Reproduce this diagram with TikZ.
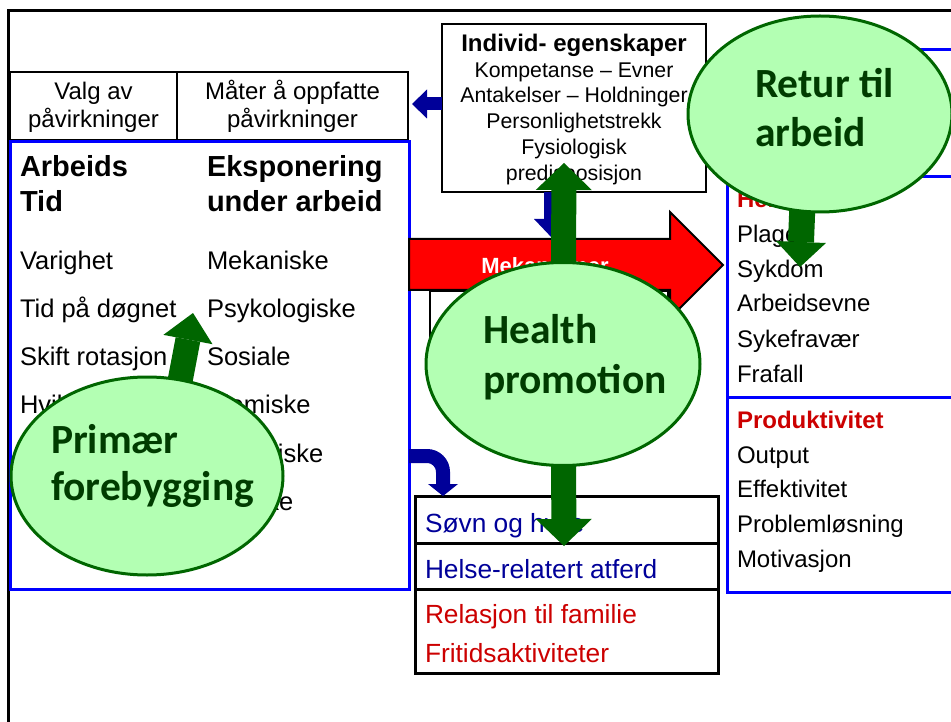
\documentclass[tikz,border=0pt]{standalone}
\usepackage{fontspec}
\setmainfont{Liberation Sans}
\newfontfamily\carl{Carlito}
\usetikzlibrary{arrows.meta,shapes.geometric,calc}
\definecolor{bluel}{RGB}{0,0,255}
\definecolor{navy}{RGB}{0,0,153}
\definecolor{redt}{RGB}{204,0,0}
\definecolor{gfill}{RGB}{179,255,179}
\definecolor{gdark}{RGB}{0,102,0}
\definecolor{gtext}{RGB}{0,60,0}
\tikzset{
  lbl/.style={anchor=base west, inner sep=0pt, outer sep=0pt},
  clbl/.style={anchor=base, inner sep=0pt, outer sep=0pt},
  bbox/.style={draw=black, line width=2.5pt, fill=white, anchor=north west, inner sep=0pt, outer sep=0pt},
  bluebox/.style={draw=bluel, line width=3pt, anchor=north west, inner sep=0pt, outer sep=0pt},
  gell/.style={ellipse, draw=gdark, fill=gfill, line width=3pt, inner sep=0pt},
  gtxt/.style={lbl, text=gtext, font=\carl\bfseries\fontsize{41.5}{48}\selectfont},
  f21/.style={font=\fontsize{21.3}{26}\selectfont},
  f24/.style={font=\fontsize{24}{28}\selectfont},
  f24b/.style={font=\bfseries\fontsize{24}{28}\selectfont},
  f25/.style={font=\fontsize{25.5}{30}\selectfont},
  f26/.style={font=\fontsize{26.3}{31}\selectfont},
  f29b/.style={font=\bfseries\fontsize{29}{34}\selectfont},
  garrow/.style={draw=gdark, line width=25pt, -{Triangle[length=27pt 0 0, width=56pt 0 0, line width=0pt 0 0]}},
  garrowb/.style={draw=gdark, line width=26pt, -{Triangle[length=25pt 0 0, width=50pt 0 0, line width=0pt 0 0]}},
  barrow/.style={draw=navy, line width=13pt, -{Triangle[length=15pt 0 0, width=29pt 0 0, line width=0pt 0 0]}},
  barrowd/.style={draw=navy, line width=18pt, -{Triangle[length=20pt 0 0, width=38pt 0 0, line width=0pt 0 0]}},
  barrowc/.style={draw=navy, line width=14pt, -{Triangle[length=12pt 0 0, width=30pt 0 0, line width=0pt 0 0]}},
}
\begin{document}
\begin{tikzpicture}[x=1pt,y=-1pt]
\useasboundingbox (0,0) rectangle (951,722);
\fill[white] (0,0) rectangle (951,722);
% outer frame
\draw[line width=3pt] (8,740) -- (8,11) -- (970,11);

% top-left boxes
\node[bbox, minimum width=167pt, minimum height=68pt] (valg) at (10,72) {};
\node[bbox, minimum width=231pt, minimum height=68pt] (maater) at (177,72) {};
\node[clbl, f24] at (93.5,100) {Valg av};
\node[clbl, f24] at (93.5,128) {påvirkninger};
\node[clbl, f24] at (292.5,100) {Måter å oppfatte};
\node[clbl, f24] at (292.5,128) {påvirkninger};

% left blue box
\node[bluebox, minimum width=399pt, minimum height=447pt] (work) at (10,142) {};
\node[lbl, f29b] at (20,177) {Arbeids};
\node[lbl, f29b] at (20,212) {Tid};
\node[lbl, f29b] at (207,177) {Eksponering};
\node[lbl, f29b] at (207,212) {under arbeid};
\node[lbl, f25] at (20,270) {Varighet};
\node[lbl, f25] at (20,317) {Tid på døgnet};
\node[lbl, f25] at (20,365) {Skift rotasjon};
\node[lbl, f25] at (20,413) {Hvile};
\node[lbl, f25] at (207,270) {Mekaniske};
\node[lbl, f25] at (207,317) {Psykologiske};
\node[lbl, f25] at (207,365) {Sosiale};
\node[lbl, f25] at (207,413) {Kjemiske};
\node[lbl, f25] at (207,462) {Biologiske};
\node[lbl, f25] at (207,510) {Fysiske};

% individ box
\node[bbox, line width=2pt, minimum width=264pt, minimum height=168pt] (indiv) at (442,24) {};
\node[clbl, f24b] at (574,52) {Individ- egenskaper};
\node[clbl, f21] at (574,78) {Kompetanse – Evner};
\node[clbl, f21] at (574,103) {Antakelser – Holdninger};
\node[clbl, f21] at (574,129) {Personlighetstrekk};
\node[clbl, f21] at (574,155) {Fysiologisk};
\node[clbl, f21] at (574,181) {predisposisjon};

% right blue boxes
\node[bluebox, minimum width=240pt, minimum height=127pt] (utfall) at (727,50) {};
\node[bluebox, minimum width=240pt, minimum height=220pt] (helse) at (727,177) {};
\node[bluebox, minimum width=240pt, minimum height=195pt] (prod) at (727,397) {};
\node[lbl, f24b, text=redt] at (737,208) {Helse};
\node[lbl, f24] at (737,243) {Plager};
\node[lbl, f24] at (737,277) {Sykdom};
\node[lbl, f24] at (737,312) {Arbeidsevne};
\node[lbl, f24] at (737,347) {Sykefravær};
\node[lbl, f24] at (737,382) {Frafall};
\node[lbl, f24b, text=redt] at (737,428) {Produktivitet};
\node[lbl, f24] at (737,463) {Output};
\node[lbl, f24] at (737,497) {Effektivitet};
\node[lbl, f24] at (737,532) {Problemløsning};
\node[lbl, f24] at (737,567) {Motivasjon};

% lower middle boxes
\node[bbox, line width=3pt, minimum width=303pt, minimum height=47pt] (soevn) at (415,496) {};
\node[bbox, line width=3pt, minimum width=303pt, minimum height=46pt] (atferd) at (415,543) {};
\node[bbox, line width=3pt, minimum width=303pt, minimum height=84pt] (familie) at (415,589) {};
\node[lbl, f26, text=navy] at (425,532) {Søvn og hvile};
\node[lbl, f26, text=navy] at (425,578) {Helse-relatert atferd};
\node[lbl, f26, text=redt] at (425,623) {Relasjon til familie};
\node[lbl, f26, text=redt] at (425,662) {Fritidsaktiviteter};

% box under the mechanism arrow
\node[bbox, minimum width=238pt, minimum height=79pt] (mekbox) at (430,291) {};
% red mechanism arrow
\draw[fill=red, line width=2pt, line join=miter] (409,239) -- (670,239) -- (670,212) -- (723,265) -- (670,318) -- (670,290) -- (409,290) -- cycle;
\node[clbl, text=white, font=\bfseries\fontsize{22}{26}\selectfont] (mek) at (545,273) {Mekanismer};

% blue arrows
\coordinate (tipL) at (412,104);
\coordinate (tipD) at (553,239);
\draw[barrow] (indiv.west |- 0,104) -- (tipL);
\draw[barrowd] (indiv.south -| 553,0) -- (tipD);
\draw[barrowc] (work.east |- 0,456) -- (427,456) arc[start angle=-90, end angle=0, radius=16] -- (soevn.north -| 443,0);

% ellipses (positions) and green arrows
\coordinate (hpc) at (563,364);
\coordinate (rtc) at (820,114);
\coordinate (pfc) at (147,476);
\coordinate (tipU) at (564,163);
\coordinate (tipDn) at (564,546);
\coordinate (tipR) at (800,267);
\coordinate (tipP) at (193,313);
\draw[garrow] (hpc) -- (tipU);
\draw[garrow] (hpc) -- (tipDn);
\draw[garrowb] ($(rtc)+(-14,0)$) -- (tipR);
\draw[garrow, -{Triangle[length=27pt 0 0, width=50pt 0 0, line width=0pt 0 0]}] ($(pfc)+(15,0)$) -- (tipP);

\node[gell, minimum width=274pt, minimum height=203pt] (hp) at (hpc) {};
\node[gell, minimum width=264pt, minimum height=196pt] (rt) at (rtc) {};
\node[gell, minimum width=272pt, minimum height=198pt] (pf) at (pfc) {};
\node[gtxt] at (483,343) {Health};
\node[gtxt] at (483,393) {promotion};
\node[gtxt] at (755,98) {Retur til};
\node[gtxt] at (755,147) {arbeid};
\node[gtxt] at (51,453) {Primær};
\node[gtxt] at (51,500) {forebygging};
\end{tikzpicture}
\end{document}
